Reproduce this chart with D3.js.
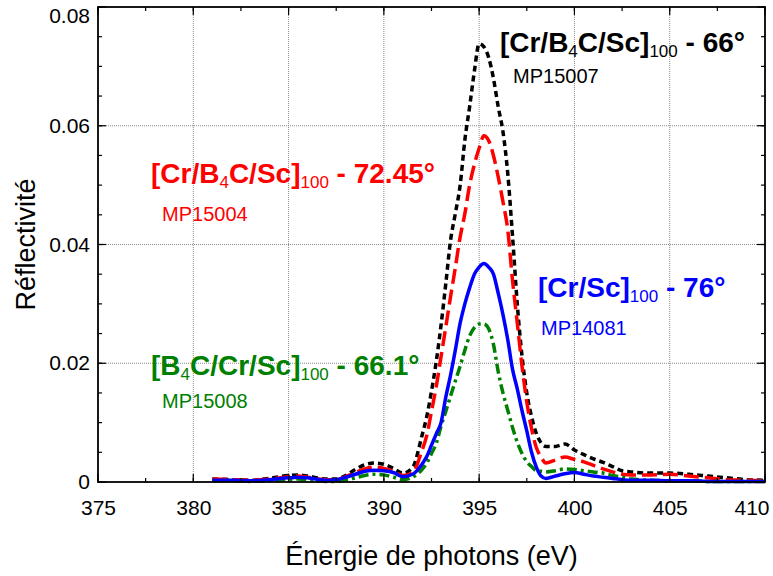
<!DOCTYPE html>
<html><head><meta charset="utf-8">
<script src="https://cdn.jsdelivr.net/npm/d3@7"></script>
<style>body{margin:0;background:#fff}svg{display:block}</style>
</head><body>
<svg id="c" width="773" height="576"></svg>
<script>
const energy = [381,382,383,384,385,385.5,386,387,387.5,388,388.5,389,389.5,390,390.5,391,391.5,392,392.25,392.5,392.75,393,393.25,393.5,393.75,394,394.25,394.5,394.75,395,395.25,395.5,395.75,396,396.25,396.5,396.75,397,397.25,397.5,397.75,398,398.25,398.5,399,399.5,400,400.5,401,401.5,402,402.5,403,404,405,406,407,408,409,410];
const mp15007 = [0.0005,0.0004,0.0003,0.0006,0.0011,0.0012,0.0010,0.0005,0.0005,0.0011,0.0021,0.0029,0.0032,0.0030,0.0023,0.0015,0.0024,0.0078,0.0110,0.0153,0.0203,0.0264,0.0334,0.0407,0.0452,0.0499,0.0576,0.0632,0.0692,0.0738,0.0733,0.0715,0.0680,0.0632,0.0590,0.0520,0.0415,0.0300,0.0212,0.0150,0.0110,0.0082,0.0066,0.0060,0.0060,0.0064,0.0054,0.0046,0.0039,0.0033,0.0026,0.0019,0.0017,0.0015,0.0015,0.0013,0.0010,0.0007,0.0004,0.0003];
const mp15004 = [0.0005,0.0004,0.0003,0.0005,0.0009,0.0010,0.0008,0.0004,0.0004,0.0009,0.0016,0.0022,0.0025,0.0023,0.0018,0.0011,0.0015,0.0053,0.0078,0.0119,0.0161,0.0211,0.0261,0.0312,0.0361,0.0412,0.0452,0.0500,0.0535,0.0562,0.0583,0.0575,0.0550,0.0514,0.0472,0.0425,0.0340,0.0268,0.0195,0.0135,0.0090,0.0058,0.0042,0.0032,0.0037,0.0042,0.0038,0.0034,0.0028,0.0022,0.0017,0.0013,0.0012,0.0012,0.0013,0.0010,0.0007,0.0004,0.0003,0.0002];
const mp14081 = [0.0003,0.0003,0.0002,0.0004,0.0007,0.0008,0.0007,0.0003,0.0004,0.0008,0.0013,0.0018,0.0020,0.0019,0.0016,0.0009,0.0013,0.0030,0.0043,0.0062,0.0081,0.0100,0.0143,0.0180,0.0222,0.0267,0.0300,0.0327,0.0350,0.0362,0.0368,0.0362,0.0350,0.0318,0.0282,0.0240,0.0190,0.0157,0.0120,0.0086,0.0050,0.0025,0.0010,0.0006,0.0010,0.0014,0.0016,0.0013,0.0010,0.0008,0.0006,0.0004,0.0003,0.0003,0.0002,0.0002,0.0001,0.0001,0.0001,0.0001];
const mp15008 = [0.0002,0.0002,0.0001,0.0002,0.0004,0.0005,0.0004,0.0001,0.0001,0.0003,0.0007,0.0011,0.0013,0.0012,0.0008,0.0004,0.0008,0.0021,0.0032,0.0048,0.0065,0.0094,0.0119,0.0145,0.0170,0.0195,0.0222,0.0246,0.0260,0.0266,0.0266,0.0258,0.0232,0.0186,0.0150,0.0121,0.0092,0.0067,0.0048,0.0034,0.0026,0.0019,0.0018,0.0017,0.0019,0.0022,0.0021,0.0019,0.0017,0.0015,0.0011,0.0008,0.0005,0.0003,0.0002,0.0002,0.0001,0.0001,0.0001,0.0001];
const xTicks = [375,380,385,390,395,400,405,410];
const yTicks = [0,0.02,0.04,0.06,0.08];
const xTitle = "Énergie de photons (eV)";
const yTitle = "Réflectivité";
const seriesNames = ["MP15007","MP15004","MP15008","MP14081"];
const seriesColors = ["#000000","#ff0000","#008000","#0000ff"];
const seriesDash = ["6,4","15,6","10,4,3,4",null];
const seriesValues = [mp15007, mp15004, mp15008, mp14081];
// label: [main1, sub1, main2, sub2, main3]
const labelParts = [
  ["[Cr/B","4","C/Sc]","100"," - 66°"],
  ["[Cr/B","4","C/Sc]","100"," - 72.45°"],
  ["[B","4","C/Cr/Sc]","100"," - 66.1°"],
  ["[Cr/Sc]","","","100"," - 76°"]
];
const labelPos = [[396.09,0.0724],[377.78,0.0504],[377.78,0.0180],[398.09,0.0312]];
const codePos = [[396.78,0.0672],[378.36,0.0440],[378.36,0.0125],[398.25,0.0248]];

const svg = d3.select("#c");
const W = 773, H = 576;
const m = {l:98, r:8, t:7, b:94};
const x = d3.scaleLinear().domain([375,410]).range([m.l, W-m.r]);
const y = d3.scaleLinear().domain([0,0.08]).range([H-m.b, m.t]);
const font = "'Liberation Sans', Arial, sans-serif";

// grid
const g = svg.append("g");
g.selectAll(".gx").data(xTicks.slice(1,-1)).enter().append("line")
  .attr("x1",d=>x(d)).attr("x2",d=>x(d)).attr("y1",y(0)).attr("y2",y(0.08))
  .attr("stroke","#8a8a8a").attr("stroke-width",1).attr("stroke-dasharray","1,1");
g.selectAll(".gy").data(yTicks.slice(1,-1)).enter().append("line")
  .attr("y1",d=>y(d)).attr("y2",d=>y(d)).attr("x1",x(375)).attr("x2",x(410))
  .attr("stroke","#8a8a8a").attr("stroke-width",1).attr("stroke-dasharray","1,1");

// curves
const line = d3.line().x((d,i)=>x(energy[i])).y(d=>y(d)).curve(d3.curveMonotoneX);
seriesValues.forEach((vals,k)=>{
  svg.append("path").datum(vals).attr("d",line)
    .attr("fill","none").attr("stroke",seriesColors[k]).attr("stroke-width",3.5)
    .attr("stroke-dasharray",seriesDash[k]).attr("stroke-linejoin","round");
});

// axes with inward ticks on all sides
const xMinor = d3.range(375,410.01,2.5);
const yMinor = d3.range(0,0.0801,0.005);
function ticks(sel, arr, orient, len){
  arr.forEach(v=>{
    let a;
    if(orient==="b") a=[x(v),y(0),x(v),y(0)-len];
    if(orient==="t") a=[x(v),y(0.08),x(v),y(0.08)+len];
    if(orient==="l") a=[x(375),y(v),x(375)+len,y(v)];
    if(orient==="r") a=[x(410),y(v),x(410)-len,y(v)];
    sel.append("line").attr("x1",a[0]).attr("y1",a[1]).attr("x2",a[2]).attr("y2",a[3])
      .attr("stroke","#000").attr("stroke-width",1.2);
  });
}
const tk = svg.append("g");
["b","t"].forEach(o=>{ticks(tk,xMinor,o,4);ticks(tk,xTicks,o,8);});
["l","r"].forEach(o=>{ticks(tk,yMinor,o,4);ticks(tk,yTicks,o,8);});
svg.append("rect").attr("x",x(375)).attr("y",y(0.08)).attr("width",x(410)-x(375)).attr("height",y(0)-y(0.08))
  .attr("fill","none").attr("stroke","#000").attr("stroke-width",1.8);

const xAxis = d3.axisBottom(x).tickValues(xTicks).tickSize(0).tickPadding(18).tickFormat(d3.format("d"));
svg.append("g").attr("transform",`translate(0,${y(0)})`).call(xAxis)
  .call(s=>s.select(".domain").remove())
  .selectAll("text").attr("font-family",font).attr("font-size",21).attr("fill","#000")
  .filter(d=>d===410).attr("text-anchor","end").attr("dx",4);
const yAxis = d3.axisLeft(y).tickValues(yTicks).tickSize(0).tickPadding(8).tickFormat(d=>d===0?"0":d3.format(".2f")(d));
svg.append("g").attr("transform",`translate(${x(375)},0)`).call(yAxis)
  .call(s=>s.select(".domain").remove())
  .selectAll("text").attr("font-family",font).attr("font-size",21).attr("fill","#000")
  .filter(d=>d===0.08).attr("dy","0.74em");

svg.append("text").attr("x",(x(375)+x(410))/2).attr("y",565).attr("text-anchor","middle")
  .attr("font-family",font).attr("font-size",27).text(xTitle);
svg.append("text").attr("transform",`translate(35,${y(0.04)}) rotate(-90)`).attr("text-anchor","middle")
  .attr("font-family",font).attr("font-size",27).text(yTitle);

// labels
labelParts.forEach((p,k)=>{
  const t = svg.append("text").attr("x",x(labelPos[k][0])).attr("y",y(labelPos[k][1]))
    .attr("font-family",font).attr("font-size",28).attr("font-weight","bold").attr("fill",seriesColors[k]);
  t.append("tspan").text(p[0]);
  if(p[1]) t.append("tspan").attr("font-size",17).attr("font-weight","normal").attr("dy",5).text(p[1]);
  if(p[2]) t.append("tspan").attr("dy",p[1]?-5:0).text(p[2]);
  t.append("tspan").attr("font-size",17).attr("font-weight","normal").attr("dy",5).text(p[3]);
  t.append("tspan").attr("dy",-5).text(p[4]);
  svg.append("text").attr("x",x(codePos[k][0])).attr("y",y(codePos[k][1]))
    .attr("font-family",font).attr("font-size",20).attr("fill",seriesColors[k]).text(seriesNames[k]);
});
</script>
</body></html>
